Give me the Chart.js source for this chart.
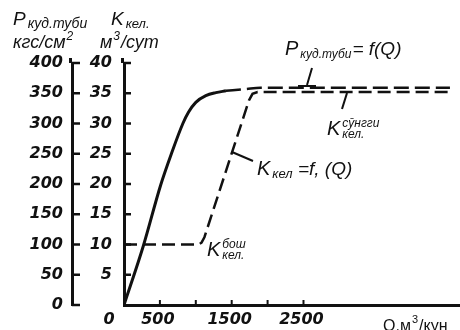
<!DOCTYPE html>
<html>
<head>
<meta charset="utf-8">
<script src="https://cdn.jsdelivr.net/npm/chart.js@4"></script>
<style>
  body { margin: 0; background: #fff; }
  #wrap { width: 460px; height: 330px; position: relative; }
</style>
</head>
<body>
<div id="wrap"><canvas id="chart"></canvas></div>
<script>
// P (pressure) curve, solid part then dashed plateau
const qPSolid = [0, 270, 510, 660, 820, 900, 1000, 1140, 1280, 1420];
const pSolid = [0, 98, 198, 250, 300, 319, 335, 346, 351, 354];
const qPDashed = [1420, 1700, 1900, 4540];
const pDashed = [354, 357, 359, 359];

// K (productivity) curve
const qK = [0, 1040, 1080, 1120, 1740, 1790, 1860, 4540];
const kVals = [10, 10, 10.3, 11.2, 33.8, 34.9, 35.2, 35.2];

// axis ticks
const pTicks = [0, 50, 100, 150, 200, 250, 300, 350, 400];
const kTicks = [5, 10, 15, 20, 25, 30, 35, 40];
const qTickMarks = [500, 1000, 1500, 2000, 2500];
const qTickLabels = ['0', '500', '1500', '2500'];
const qTickLabelValues = [0, 500, 1500, 2500];

const INK = '#111';
const tickFont = { family: 'DejaVu Sans', size: 16, style: 'italic', weight: 'bold' };

const toPoints = (xs, ys) => xs.map((x, i) => ({ x: x, y: ys[i] }));

// draws a letter with superscript / subscript parts, returns end x
function richLabel(ctx, x, y, main, sup, sub, big, small) {
  ctx.font = 'italic ' + big + 'px "Liberation Sans"';
  ctx.fillText(main, x, y);
  const w = ctx.measureText(main).width + 2;
  ctx.font = 'italic ' + small + 'px "Liberation Sans"';
  if (sup) ctx.fillText(sup, x + w, y - 8);
  if (sub) ctx.fillText(sub, x + w, y + 3);
  return x + w + Math.max(sup ? ctx.measureText(sup).width : 0, sub ? ctx.measureText(sub).width : 0);
}

// text followed by a small raised part and more text
function textWithSup(ctx, x, y, a, sup, b, font, supFont) {
  ctx.font = font;
  ctx.fillText(a, x, y);
  x += ctx.measureText(a).width + 1;
  ctx.font = supFont;
  ctx.fillText(sup, x, y - 8);
  x += ctx.measureText(sup).width + 1;
  if (b) {
    ctx.font = font;
    ctx.fillText(b, x, y);
  }
}

const decorPlugin = {
  id: 'decor',
  afterDraw(chart) {
    const ctx = chart.ctx;
    const { x, y, y1 } = chart.scales;
    ctx.save();
    ctx.strokeStyle = INK;
    ctx.fillStyle = INK;
    ctx.lineWidth = 2.5;

    // inward ticks on both vertical axes
    pTicks.forEach(v => {
      const py = y.getPixelForValue(v);
      ctx.beginPath(); ctx.moveTo(y.right, py); ctx.lineTo(y.right + 8, py); ctx.stroke();
    });
    kTicks.forEach(v => {
      const py = y1.getPixelForValue(v);
      ctx.beginPath(); ctx.moveTo(y1.right, py); ctx.lineTo(y1.right + 7, py); ctx.stroke();
    });
    // axis lines poke a little above the top tick
    ctx.lineWidth = 3;
    [y.right, y1.right].forEach(ax => {
      ctx.beginPath(); ctx.moveTo(ax - 1.5, y.top); ctx.lineTo(ax - 1.5, y.top - 5); ctx.stroke();
    });
    // small upward ticks on Q axis
    ctx.lineWidth = 2;
    qTickMarks.forEach(v => {
      const px = x.getPixelForValue(v);
      ctx.beginPath(); ctx.moveTo(px, x.top); ctx.lineTo(px, x.top - 5); ctx.stroke();
    });

    // Q tick labels
    ctx.font = 'italic bold 16px "DejaVu Sans"';
    ctx.textAlign = 'center';
    ctx.textBaseline = 'middle';
    qTickLabels.forEach((t, i) => {
      let px = x.getPixelForValue(qTickLabelValues[i]);
      if (qTickLabelValues[i] === 0) px -= 13;
      ctx.fillText(t, px - 2, 320);
    });

    ctx.textAlign = 'left';
    ctx.textBaseline = 'alphabetic';

    // axis titles, top-left
    richLabel(ctx, 13, 25, 'P', null, 'куд.туби', 19, 14);
    richLabel(ctx, 111, 25, 'K', null, 'кел.', 19, 13);
    textWithSup(ctx, 13, 48, 'кгс/см', '2', null, 'italic 18px "Liberation Sans"', 'italic 12px "Liberation Sans"');
    textWithSup(ctx, 100, 48, 'м', '3', '/сут', 'italic 18px "Liberation Sans"', 'italic 12px "Liberation Sans"');

    // curve annotations
    const e1 = richLabel(ctx, 285, 55, 'P', null, 'куд.туби', 20, 12);
    ctx.font = 'italic 19px "Liberation Sans"';
    ctx.fillText('= f(Q)', e1 + 1, 55);

    richLabel(ctx, 327, 135, 'K', 'сӯнгги', 'кел.', 20, 12);

    const e3 = richLabel(ctx, 257, 175, 'K', null, 'кел', 20, 13);
    ctx.font = 'italic 19px "Liberation Sans"';
    ctx.fillText(' =f, (Q)', e3, 175);

    richLabel(ctx, 207, 256, 'K', 'бош', 'кел.', 20, 12);

    textWithSup(ctx, 383, 331, 'Q,м', '3', '/кун', '16px "Liberation Sans"', '11px "Liberation Sans"');

    // leader lines
    ctx.lineWidth = 2;
    ctx.beginPath(); ctx.moveTo(312, 68); ctx.lineTo(307, 85); ctx.stroke();
    ctx.beginPath(); ctx.moveTo(298, 86); ctx.lineTo(316, 86); ctx.stroke();
    ctx.beginPath(); ctx.moveTo(347, 93); ctx.lineTo(342, 109); ctx.stroke();
    ctx.beginPath(); ctx.moveTo(232, 152); ctx.lineTo(253, 161); ctx.stroke();
    ctx.restore();
  }
};

new Chart(document.getElementById('chart'), {
  type: 'line',
  data: {
    datasets: [
      {
        label: 'P solid',
        data: toPoints(qPSolid, pSolid),
        yAxisID: 'y',
        borderColor: INK,
        borderWidth: 3,
        pointRadius: 0,
        cubicInterpolationMode: 'monotone'
      },
      {
        label: 'P dashed',
        data: toPoints(qPDashed, pDashed),
        yAxisID: 'y',
        borderColor: INK,
        borderWidth: 2.5,
        borderDash: [15, 6],
        pointRadius: 0,
        cubicInterpolationMode: 'monotone'
      },
      {
        label: 'K',
        data: toPoints(qK, kVals),
        yAxisID: 'y1',
        borderColor: INK,
        borderWidth: 2.5,
        borderDash: [13, 6],
        pointRadius: 0,
        tension: 0
      }
    ]
  },
  options: {
    responsive: true,
    maintainAspectRatio: false,
    animation: false,
    layout: { padding: { top: 63, right: 0, bottom: 0, left: 0 } },
    plugins: { legend: { display: false }, tooltip: { enabled: false } },
    scales: {
      x: {
        type: 'linear',
        min: 0,
        max: 4680,
        grid: { display: false, drawTicks: false },
        border: { display: true, color: INK, width: 3 },
        ticks: { display: false },
        afterFit: s => { s.height = 25; }
      },
      y: {
        position: 'left',
        weight: 10,
        min: 0,
        max: 400,
        grid: { display: false, drawTicks: false },
        border: { display: true, color: INK, width: 3 },
        ticks: { stepSize: 50, color: INK, font: tickFont, padding: 9 },
        afterFit: s => { s.width = 72; }
      },
      y1: {
        position: 'left',
        weight: 0,
        min: 0,
        max: 40,
        grid: { display: false, drawTicks: false },
        border: { display: true, color: INK, width: 3 },
        ticks: {
          stepSize: 5,
          color: INK,
          font: tickFont,
          padding: 12,
          callback: v => (v === 0 ? '' : v)
        },
        afterFit: s => { s.width = 52; }
      }
    }
  },
  plugins: [decorPlugin]
});
</script>
</body>
</html>
